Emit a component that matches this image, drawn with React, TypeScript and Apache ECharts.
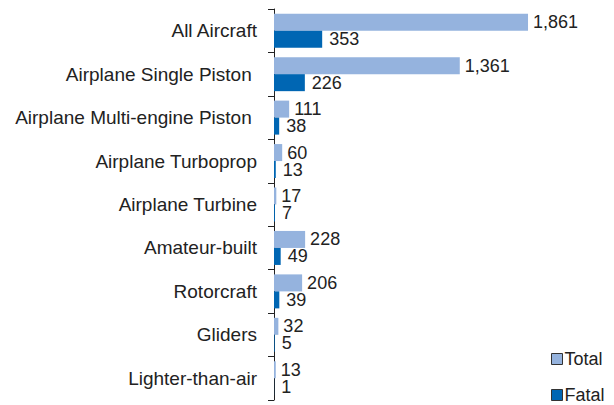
import React, { useEffect, useRef } from "react";
import * as echarts from "echarts";

const categories = [
  "All Aircraft",
  "Airplane Single Piston ",
  "Airplane Multi-engine Piston ",
  "Airplane Turboprop",
  "Airplane Turbine",
  "Amateur-built",
  "Rotorcraft",
  "Gliders",
  "Lighter-than-air",
];
const totalValues = [1861, 1361, 111, 60, 17, 228, 206, 32, 13];
const fatalValues = [353, 226, 38, 13, 7, 49, 39, 5, 1];

const FONT = "Liberation Sans, Arial, sans-serif";

export default function App() {
  const ref = useRef<HTMLDivElement>(null);
  useEffect(() => {
    const chart = echarts.init(ref.current!, null, { renderer: "svg" });
    const label = {
      show: true,
      position: "right",
      distance: 7,
      color: "#222",
      fontSize: 18,
      lineHeight: 14,
      fontFamily: FONT,
      formatter: (p: any) => Number(p.value).toLocaleString("en-US"),
    };
    chart.setOption({
      animation: false,
      grid: { left: 274, top: 9, bottom: 5, right: 67, containLabel: false },
      legend: {
        orient: "vertical",
        left: 551,
        top: 350,
        height: 80,
        padding: 0,
        itemWidth: 11,
        itemHeight: 11,
        itemGap: 18,
        icon: "rect",
        textStyle: { fontSize: 18, lineHeight: 16, color: "#222", fontFamily: FONT, padding: [0, 0, 0, -3] },
        data: [
          { name: "Total", itemStyle: { borderColor: "#333", borderWidth: 1 } },
          { name: "Fatal", itemStyle: { borderColor: "#333", borderWidth: 1 } },
        ],
      },
      xAxis: {
        type: "value",
        min: 0,
        max: 2000,
        show: false,
      },
      yAxis: {
        type: "category",
        inverse: true,
        data: categories,
        axisLine: { show: true, lineStyle: { color: "#222", width: 1 } },
        axisTick: { show: true, length: 6, lineStyle: { color: "#222" } },
        axisLabel: { fontSize: 19, color: "#222", fontFamily: FONT, margin: 17 },
      },
      series: [
        {
          name: "Total",
          type: "bar",
          data: totalValues,
          barWidth: 17,
          barGap: "0%",
          itemStyle: { color: "#95B3DE" },
          label: { ...label, distance: 5 },
        },
        {
          name: "Fatal",
          type: "bar",
          data: fatalValues,
          barWidth: 17,
          barGap: "0%",
          itemStyle: { color: "#0066B3" },
          label,
        },
      ],
    });
    return () => chart.dispose();
  }, []);
  return <div ref={ref} style={{ width: 614, height: 405, position: "absolute", left: 0, top: 0 }} />;
}
